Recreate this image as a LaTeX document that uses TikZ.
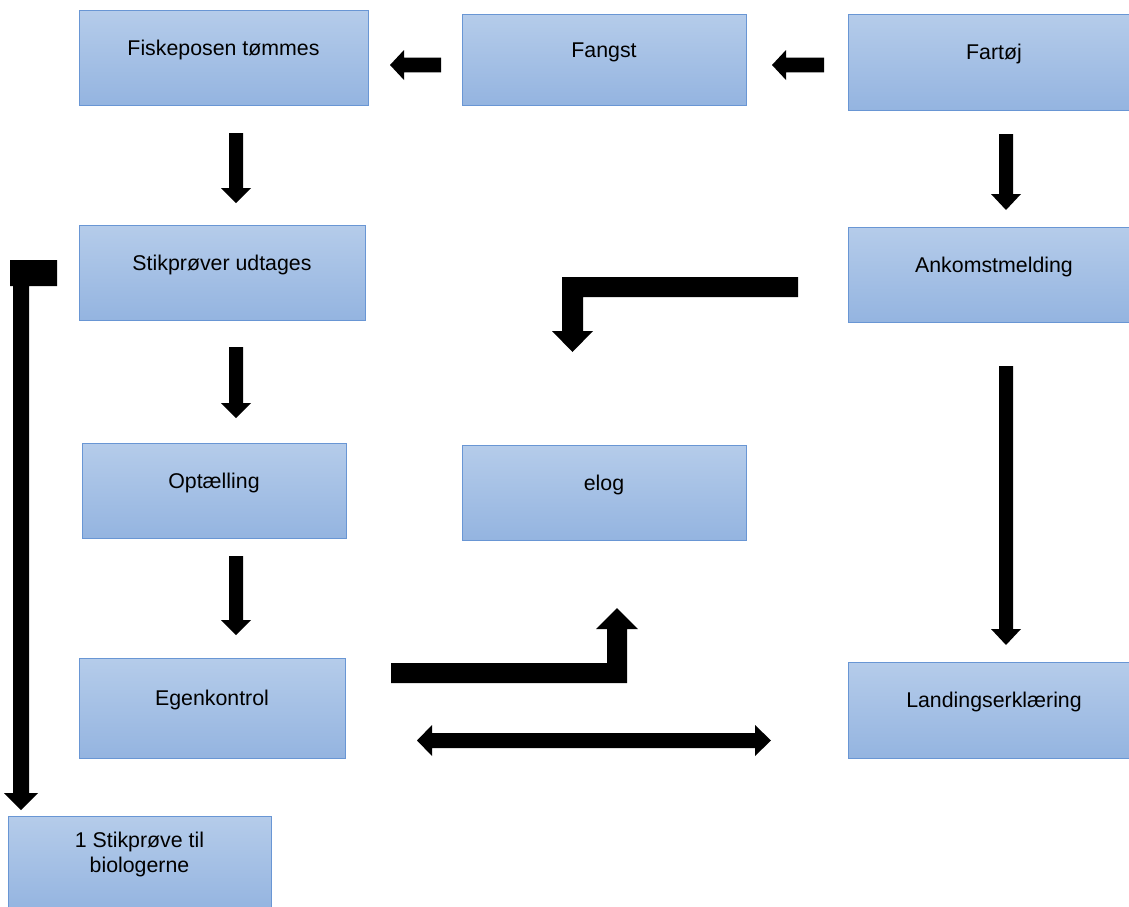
\documentclass[tikz,border=0pt]{standalone}
\usepackage{fontspec}
\setmainfont{Liberation Sans}
\usetikzlibrary{fit}
\definecolor{boxtop}{RGB}{181,204,234}
\definecolor{boxbot}{RGB}{148,180,224}
\definecolor{boxline}{RGB}{105,150,212}
\begin{document}
\begin{tikzpicture}[x=0.75pt,y=-0.75pt,
  blk/.style={draw=boxline, line width=0.75pt, top color=boxtop, bottom color=boxbot,
    inner sep=0pt, font=\fontsize{16}{18.75}\selectfont, text height=12pt, text depth=15.6pt},
  blockarrow/.style={fill=black}]
\useasboundingbox (0,0) rectangle (1129,907);
% boxes
\node[blk, fit={(79,10) (368,105)}] (fisk) {Fiskeposen tømmes};
\node[blk, fit={(462,14) (746,105)}] (fangst) {Fangst};
\node[blk, fit={(848,14) (1140,110)}] (fartoj) {Fartøj};
\node[blk, fit={(79,225) (365,320)}] (stik) {Stikprøver udtages};
\node[blk, fit={(848,227) (1140,322)}] (ankomst) {Ankomstmelding};
\node[blk, fit={(82,443) (346,538)}] (opt) {Optælling};
\node[blk, fit={(462,445) (746,540)}] (elog) {elog};
\node[blk, fit={(79,658) (345,758)}] (egen) {Egenkontrol};
\node[blk, fit={(848,662) (1140,758)}] (land) {Landingserklæring};
\node[blk, text height=12pt, text depth=35.2pt, fit={(8,816) (271,911)}] (bio)
  {\begin{tabular}[t]{@{}c@{}}1 Stikprøve til\\biologerne\end{tabular}};
% horizontal left arrows
\fill[blockarrow] (441,57.7) -- (404,57.7) -- (404,50) -- (390,65) -- (404,80) -- (404,72.3) -- (441,72.3) -- cycle;
\fill[blockarrow] (824,57.7) -- (786,57.7) -- (786,50) -- (772,65) -- (786,80) -- (786,72.3) -- (824,72.3) -- cycle;
% vertical down arrows
\fill[blockarrow] (229,133) -- (243,133) -- (243,188) -- (251,188) -- (236,203) -- (221,188) -- (229,188) -- cycle;
\fill[blockarrow] (229,347) -- (243,347) -- (243,403) -- (251,403) -- (236,418) -- (221,403) -- (229,403) -- cycle;
\fill[blockarrow] (229,556) -- (243,556) -- (243,620) -- (251,620) -- (236,635) -- (221,620) -- (229,620) -- cycle;
\fill[blockarrow] (999,134) -- (1013,134) -- (1013,194) -- (1021,194) -- (1006,210) -- (991,194) -- (999,194) -- cycle;
\fill[blockarrow] (999,366) -- (1013,366) -- (1013,629) -- (1021,629) -- (1006,645) -- (991,629) -- (999,629) -- cycle;
% elbow Ankomstmelding -> elog
\fill[blockarrow] (798,277) -- (798,297) -- (583,297) -- (583,331) -- (593,331) -- (572.5,352) -- (552,331) -- (562,331) -- (562,277) -- cycle;
% elbow Egenkontrol -> elog
\fill[blockarrow] (391,663) -- (607,663) -- (607,629) -- (596,629) -- (617,608) -- (638,629) -- (627,629) -- (627,683) -- (391,683) -- cycle;
% double arrow Egenkontrol <-> Landingserklaering
\fill[blockarrow] (417,740.5) -- (432,725) -- (432,733) -- (755,733) -- (755,725) -- (771,740.5) -- (755,756) -- (755,748) -- (432,748) -- (432,756) -- cycle;
% elbow Stikproever -> biologerne
\fill[blockarrow] (10,260) -- (57,260) -- (57,286) -- (29,286) -- (29,793) -- (38,793) -- (21,810) -- (4,793) -- (13,793) -- (13,286) -- (10,286) -- cycle;
\end{tikzpicture}
\end{document}
